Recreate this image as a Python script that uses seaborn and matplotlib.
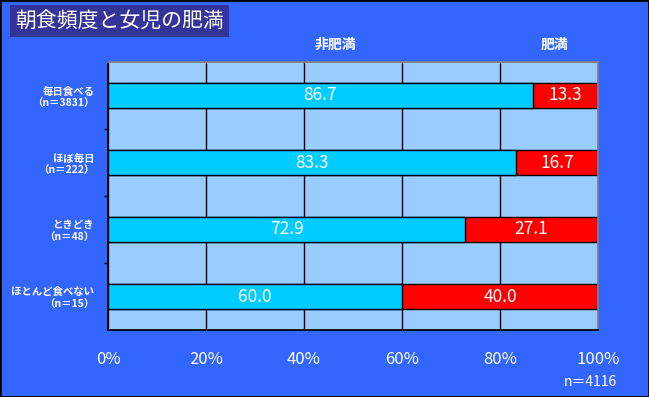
import matplotlib
matplotlib.use("Agg")
import matplotlib.pyplot as plt
import seaborn as sns
import pandas as pd
import numpy as np

categories = ["毎日食べる\n（n＝3831）", "ほぼ毎日\n（n＝222）", "ときどき\n（n＝48）", "ほとんど食べない\n（n＝15）"]
non_obese = [86.7, 83.3, 72.9, 60.0]
obese = [13.3, 16.7, 27.1, 40.0]
x_ticks = [0, 20, 40, 60, 80, 100]

sns.set_theme(style="white")
plt.rcParams['font.family'] = ['Noto Sans CJK JP', 'DejaVu Sans']

BG = "#3366FF"
df = pd.DataFrame({"cat": categories, "non": non_obese, "obe": obese})
df["total"] = df["non"] + df["obe"]

fig = plt.figure(figsize=(6.49, 3.97), dpi=100, facecolor=BG)
ax = fig.add_axes([108/649, 67/397, 490/649, 268/397])
ax.set_facecolor("#99CCFF")

sns.barplot(data=df, y="cat", x="total", color="#FF0000", orient="h",
            width=0.375, edgecolor="black", linewidth=1, ax=ax, saturation=1)
sns.barplot(data=df, y="cat", x="non", color="#00CCFF", orient="h",
            width=0.375, edgecolor="black", linewidth=1, ax=ax, saturation=1)

for i, (a, b) in enumerate(zip(non_obese, obese)):
    ax.text(a / 2, i, f"{a:.1f}", ha="center", va="center", color="white", fontsize=12.5)
    ax.text(a + b / 2, i, f"{b:.1f}", ha="center", va="center", color="white", fontsize=12.5)

ax.set_xlim(0, 100)
ax.set_ylim(3.5, -0.5)
ax.set_xticks(x_ticks)
ax.set_xticklabels([f"{t}%" for t in x_ticks], color="white", fontsize=12)
ax.tick_params(axis="x", length=0, pad=15)
ax.xaxis.grid(True, color="black", linewidth=1)
ax.set_axisbelow(True)
ax.set_yticks(range(len(categories)))
ax.set_yticklabels(categories, color="white", fontsize=7.5, fontweight="bold", linespacing=1.3)
ax.tick_params(axis="y", length=0, pad=10)
ax.set_yticks([0.5, 1.5, 2.5], minor=True)
ax.tick_params(axis="y", which="minor", length=3, color="black", left=True)
ax.set_xlabel("")
ax.set_ylabel("")
for s in ["left", "bottom"]:
    ax.spines[s].set_color("black")
for s in ["top", "right"]:
    ax.spines[s].set_color("gray")

fig.text(335/649, 1 - 45/397, "非肥満", color="white", fontsize=10, fontweight="bold",
         ha="center", va="center")
fig.text(555/649, 1 - 45/397, "肥満", color="white", fontsize=10, fontweight="bold",
         ha="center", va="center")
fig.text(617/649, 1 - 382/397, "n＝4116", color="white", fontsize=10, ha="right", va="center")
fig.text(15/649, 1 - 21/397, "朝食頻度と女児の肥満", color="white", fontsize=15,
         ha="left", va="center",
         bbox=dict(boxstyle="square,pad=0.25", facecolor="#333399", edgecolor="none"))

border = plt.Rectangle((0, 0), 1, 1, transform=fig.transFigure, fill=False,
                       edgecolor="black", linewidth=2)
fig.patches.append(border)

fig.savefig("out.png", dpi=100, facecolor=BG)
